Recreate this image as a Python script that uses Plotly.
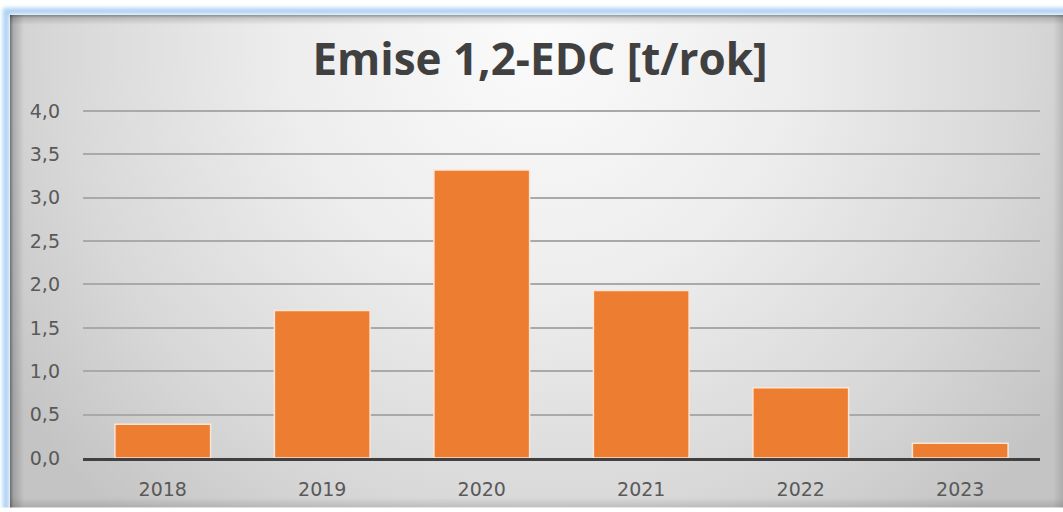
import base64
import plotly.graph_objects as go

years = ["2018", "2019", "2020", "2021", "2022", "2023"]
emissions = [0.39, 1.70, 3.32, 1.93, 0.81, 0.17]
y_ticks = [0.0, 0.5, 1.0, 1.5, 2.0, 2.5, 3.0, 3.5, 4.0]
title_text = "Emise 1,2-EDC [t/rok]"

W, H = 1063, 512
L, R, T, B = 83, 23, 106, 50
PW, PH = W - L - R, H - T - B
px_per_unit = (462 - 111) / 4.0
y_top = PH / px_per_unit

svg = f'''<svg xmlns="http://www.w3.org/2000/svg" width="{W}" height="{H}" viewBox="0 0 {W} {H}">
<defs>
<radialGradient id="g" gradientUnits="userSpaceOnUse" cx="540" cy="40" r="640">
<stop offset="0" stop-color="#fbfbfb"/>
<stop offset="0.4" stop-color="#ededed"/>
<stop offset="0.75" stop-color="#d8d8d8"/>
<stop offset="1" stop-color="#c4c4c4"/>
</radialGradient>
<linearGradient id="sl" x1="0" y1="0" x2="1" y2="0">
<stop offset="0" stop-color="#000" stop-opacity="0.45"/>
<stop offset="0.25" stop-color="#000" stop-opacity="0.18"/>
<stop offset="1" stop-color="#000" stop-opacity="0"/>
</linearGradient>
<linearGradient id="st" x1="0" y1="0" x2="0" y2="1">
<stop offset="0" stop-color="#000" stop-opacity="0.40"/>
<stop offset="0.3" stop-color="#000" stop-opacity="0.15"/>
<stop offset="1" stop-color="#000" stop-opacity="0"/>
</linearGradient>
<linearGradient id="sr" x1="1" y1="0" x2="0" y2="0">
<stop offset="0" stop-color="#000" stop-opacity="0.12"/>
<stop offset="1" stop-color="#000" stop-opacity="0"/>
</linearGradient>
<linearGradient id="sb" x1="0" y1="1" x2="0" y2="0">
<stop offset="0" stop-color="#000" stop-opacity="0.12"/>
<stop offset="1" stop-color="#000" stop-opacity="0"/>
</linearGradient>
<filter id="blur" x="-5%" y="-5%" width="110%" height="110%"><feGaussianBlur stdDeviation="2"/></filter>
</defs>
<rect x="0" y="0" width="{W}" height="{H}" fill="#ffffff"/>
<rect x="6" y="10" width="{W+20}" height="{H+20}" fill="none" stroke="#a8cff3" stroke-width="6" filter="url(#blur)"/>
<rect x="10" y="14" width="{W}" height="{H}" fill="url(#g)"/>
<rect x="10" y="14" width="14" height="{H}" fill="url(#sl)"/>
<rect x="10" y="14" width="{W}" height="10" fill="url(#st)"/>
<rect x="{W-10}" y="14" width="10" height="{H}" fill="url(#sr)"/>
<rect x="10" y="{H-10}" width="{W}" height="10" fill="url(#sb)"/>
</svg>'''
bg_uri = "data:image/svg+xml;base64," + base64.b64encode(svg.encode()).decode()

fig = go.Figure()
fig.add_trace(go.Bar(
    x=years, y=emissions,
    marker=dict(color="#ED7D31", line=dict(color="#fbe5d6", width=1.5)),
    width=0.6,
))

tick_font = dict(family="DejaVu Sans", size=19, color="#595959")

fig.update_layout(
    width=W, height=H,
    margin=dict(l=L, r=R, t=T, b=B),
    paper_bgcolor="rgba(0,0,0,0)",
    plot_bgcolor="rgba(0,0,0,0)",
    separators=", ",
    showlegend=False,
    title=dict(
        text=f"<b>{title_text}</b>",
        x=540 / W, xanchor="center",
        y=1 - 60 / H, yanchor="middle", yref="container",
        font=dict(family="Open Sans", size=44, color="#404040"),
    ),
    images=[dict(
        source=bg_uri, xref="paper", yref="paper",
        x=-L / PW, y=1 + T / PH, sizex=W / PW, sizey=H / PH,
        xanchor="left", yanchor="top", sizing="stretch", layer="below",
    )],
    xaxis=dict(
        showgrid=False, showline=True, linecolor="#404040", linewidth=2.5,
        ticks="", ticklabelstandoff=12,
        tickfont=tick_font,
    ),
    yaxis=dict(
        range=[0, y_top], tickvals=y_ticks, tickformat=".1f",
        showgrid=True, gridcolor="#a9a9a9", gridwidth=1.5,
        zeroline=False, showline=False, ticks="", ticklabelstandoff=22,
        tickfont=tick_font,
    ),
)

post_js = (
    "document.documentElement.style.margin='0';"
    "document.documentElement.style.overflow='hidden';"
    "document.documentElement.style.height='512px';"
    "document.body.style.margin='0';"
    "document.body.style.overflow='hidden';"
    "document.body.style.height='512px';"
)
fig.write_html("out.html", post_script=post_js,
               config={"displayModeBar": False})
